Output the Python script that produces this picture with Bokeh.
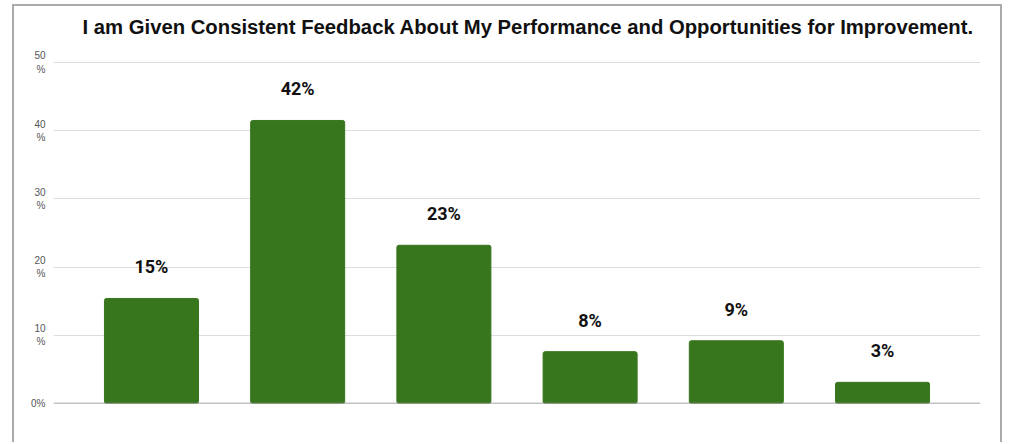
from bokeh.plotting import figure
from bokeh.models import ColumnDataSource, Range1d, LabelSet, Span, FixedTicker
from bokeh.core.properties import value
from bokeh.embed import file_html
from bokeh.resources import INLINE

title_text = "I am Given Consistent Feedback About My Performance and Opportunities for Improvement."
categories = ["A", "B", "C", "D", "E", "F"]
values = [15.4, 41.5, 23.2, 7.6, 9.2, 3.1]
labels = ["15%", "42%", "23%", "8%", "9%", "3%"]
y_ticks = [0, 10, 20, 30, 40, 50]
y_tick_labels = ["0%", "10\n%", "20\n%", "30\n%", "40\n%", "50\n%"]

xs = list(range(len(categories)))
src = ColumnDataSource(dict(x=xs, top=values, label=labels))

p = figure(width=990, height=438, output_backend="svg", toolbar_location=None,
           x_range=Range1d(-0.67, 5.67), y_range=Range1d(0, 52.49),
           min_border_left=39, min_border_right=24, min_border_top=39, min_border_bottom=41)
p.title.text = title_text
p.title.text_font = "Liberation Sans"
p.title.text_font_size = "20.3px"
p.title.text_font_style = "bold"
p.title.text_color = "#111111"
p.title.align = "left"
p.title.offset = 29
p.title.vertical_align = "top"
p.title.standoff = 12

p.vbar(x="x", top="top", width=0.643, source=src, color="#38761d", border_radius=2)

p.add_layout(LabelSet(x="x", y="top", text="label", source=src, y_offset=25,
                      text_align="center", text_baseline="alphabetic",
                      text_font=value("Roboto"), text_font_size="18px",
                      text_font_style="bold", text_color="#111111"))

p.add_layout(Span(location=0, dimension="width", line_color="#888888", line_width=1.5))

p.xaxis.visible = False
p.xgrid.visible = False
p.ygrid.ticker = FixedTicker(ticks=y_ticks)
p.ygrid.grid_line_color = "#dddddd"
p.yaxis.ticker = FixedTicker(ticks=y_ticks)
p.yaxis.major_label_overrides = {t: l for t, l in zip(y_ticks, y_tick_labels)}
p.yaxis.axis_line_color = None
p.yaxis.major_tick_line_color = None
p.yaxis.minor_tick_line_color = None
p.yaxis.major_label_text_font = "Liberation Sans"
p.yaxis.major_label_text_font_size = "10px"
p.yaxis.major_label_text_color = "#555555"
p.yaxis.major_label_standoff = 2
p.outline_line_color = None
p.styles = {"margin-left": "12px", "margin-top": "4px",
            "border-top": "2px solid #aaaaaa", "border-left": "2px solid #aaaaaa",
            "border-right": "2px solid #aaaaaa"}

open("out.html", "w").write(file_html(p, INLINE))
